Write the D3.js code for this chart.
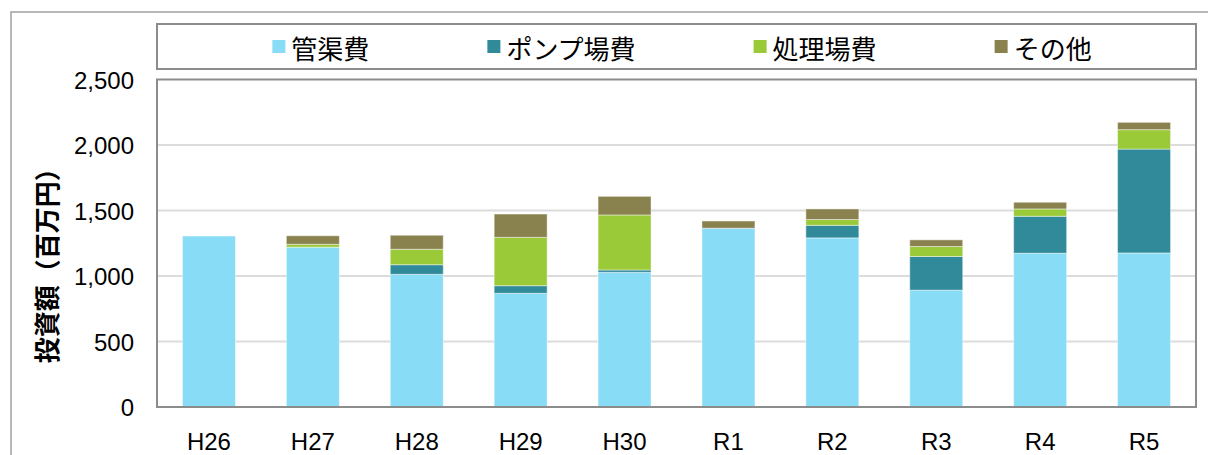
<!DOCTYPE html>
<html>
<head>
<meta charset="utf-8">
<script src="https://d3js.org/d3.v7.min.js"></script>
<style>
  html, body { margin: 0; padding: 0; background: #fff; }
  svg { display: block; }
  .tick-label { font-family: "Liberation Sans", Arial, sans-serif; font-size: 24px; fill: #000; }
  .jp { font-family: "Noto Sans CJK JP", sans-serif; fill: #000; }
</style>
</head>
<body>
<svg id="chart" width="1208" height="455"></svg>
<script>
// fiscal years
const years = ["H26", "H27", "H28", "H29", "H30", "R1", "R2", "R3", "R4", "R5"];
// series, 百万円
const pipeCost    = [1305, 1220, 1013, 868, 1028, 1365, 1291, 892, 1174, 1176]; // 管渠費
const pumpCost    = [0, 0, 73, 58, 18, 0, 96, 257, 282, 793];                   // ポンプ場費
const plantCost   = [0, 22, 118, 369, 420, 0, 44, 76, 56, 148];                 // 処理場費
const otherCost   = [0, 65, 107, 178, 142, 55, 81, 51, 51, 56];                 // その他
const seriesNames = ["管渠費", "ポンプ場費", "処理場費", "その他"];
const seriesColors = ["#88dcf6", "#318a99", "#9aca38", "#8a824e"];
const yTicks = [0, 500, 1000, 1500, 2000, 2500];
const yTitle = "投資額（百万円）";

const svg = d3.select("#chart");
const plot = { left: 157, right: 1196, top: 79.5, bottom: 407 };

// outer frame of the figure
svg.append("rect")
  .attr("x", 11).attr("y", 12)
  .attr("width", 1240).attr("height", 480)
  .attr("fill", "none")
  .attr("stroke", "#a0a0a0")
  .attr("stroke-width", 1.5);

const x = d3.scaleBand()
  .domain(years)
  .range([plot.left, plot.right])
  .paddingInner(0.49)
  .paddingOuter(0.245);

const y = d3.scaleLinear()
  .domain([0, 2500])
  .range([plot.bottom, plot.top]);

// gridlines
svg.append("g")
  .selectAll("line")
  .data(yTicks.filter(d => d > 0 && d < 2500))
  .join("line")
  .attr("x1", plot.left).attr("x2", plot.right)
  .attr("y1", d => y(d)).attr("y2", d => y(d))
  .attr("stroke", "#dcdcdc")
  .attr("stroke-width", 2);

// stacked bars
const rows = years.map((yr, i) => ({
  year: yr,
  s0: pipeCost[i], s1: pumpCost[i], s2: plantCost[i], s3: otherCost[i]
}));
const stack = d3.stack().keys(["s0", "s1", "s2", "s3"]);
const layers = stack(rows);

svg.append("g")
  .selectAll("g")
  .data(layers)
  .join("g")
  .attr("fill", (d, i) => seriesColors[i])
  .selectAll("rect")
  .data(d => d.filter(p => p[1] - p[0] > 0))
  .join("rect")
  .attr("x", d => x(d.data.year))
  .attr("width", x.bandwidth())
  .attr("y", d => y(d[1]))
  .attr("height", d => y(d[0]) - y(d[1]))
  .attr("stroke", "rgba(255,255,255,0.45)")
  .attr("stroke-width", 1);

// plot area border
svg.append("rect")
  .attr("x", plot.left).attr("y", plot.top)
  .attr("width", plot.right - plot.left)
  .attr("height", plot.bottom - plot.top)
  .attr("fill", "none")
  .attr("stroke", "#8c8c8c")
  .attr("stroke-width", 2);

// y axis labels
const yAxis = d3.axisLeft(y).tickValues(yTicks).tickFormat(d3.format(",")).tickSize(0).tickPadding(23);
svg.append("g")
  .attr("transform", `translate(${plot.left},0)`)
  .call(yAxis)
  .call(g => g.select(".domain").remove())
  .call(g => g.selectAll("text").attr("class", "tick-label").attr("fill", "#000").attr("dy", "0.36em"));

// x axis labels
const xAxis = d3.axisBottom(x).tickSize(0).tickPadding(26);
svg.append("g")
  .attr("transform", `translate(0,${plot.bottom})`)
  .call(xAxis)
  .call(g => g.select(".domain").remove())
  .call(g => g.selectAll("text").attr("class", "tick-label").attr("fill", "#000"));

// axis title
svg.append("text")
  .attr("class", "jp")
  .attr("transform", `translate(45,${(plot.top + plot.bottom) / 2 + 16}) rotate(-90)`)
  .attr("text-anchor", "middle")
  .attr("dominant-baseline", "central")
  .attr("font-size", 26)
  .attr("font-weight", "bold")
  .text(yTitle);

// legend
const legendBox = { x: 157, y: 24, w: 1039, h: 45 };
svg.append("rect")
  .attr("x", legendBox.x).attr("y", legendBox.y)
  .attr("width", legendBox.w).attr("height", legendBox.h)
  .attr("fill", "#fff")
  .attr("stroke", "#8c8c8c")
  .attr("stroke-width", 2);

const legend = svg.append("g");
const items = legend.selectAll("g")
  .data(seriesNames)
  .join("g");
items.append("rect")
  .attr("width", 13).attr("height", 13)
  .attr("y", legendBox.y + 16)
  .attr("fill", (d, i) => seriesColors[i]);
items.append("text")
  .attr("class", "jp")
  .attr("font-size", 26)
  .attr("x", 19)
  .attr("y", legendBox.y + legendBox.h / 2 + 1)
  .attr("dominant-baseline", "central")
  .text(d => d);

// lay out items with a fixed gap, centred in the box
const gap = 118;
const widths = [];
items.each(function () { widths.push(19 + d3.select(this).select("text").node().getComputedTextLength()); });
const total = d3.sum(widths) + gap * (widths.length - 1);
let cx = 682 - total / 2;
items.each(function (d, i) {
  d3.select(this).attr("transform", `translate(${cx},0)`);
  d3.select(this).select("rect").attr("x", 0);
  cx += widths[i] + gap;
});
</script>
</body>
</html>
